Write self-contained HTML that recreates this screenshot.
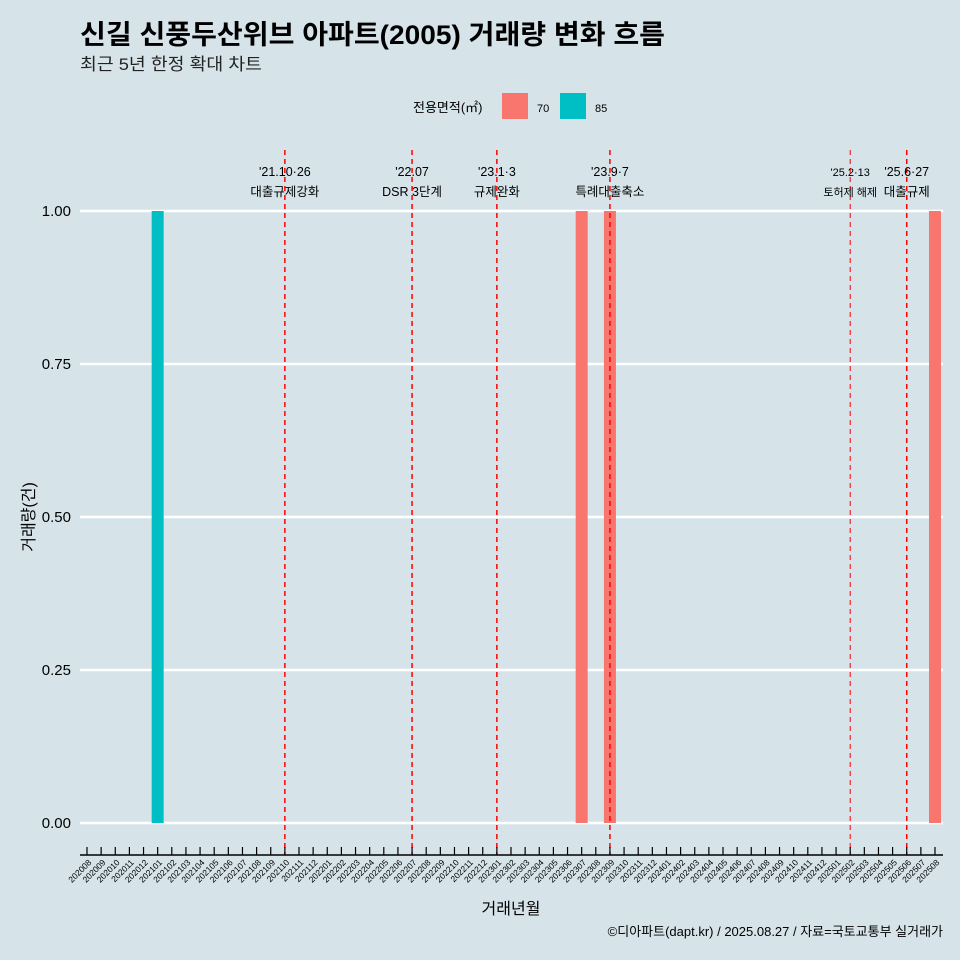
<!DOCTYPE html>
<html><head><meta charset="utf-8"><style>
html,body{margin:0;padding:0;overflow:hidden;background:#d6e4ea;font-family:"Liberation Sans","Noto Sans CJK KR",sans-serif;}
svg{display:block;}
</style></head><body>
<svg width="960" height="960" xmlns="http://www.w3.org/2000/svg" font-family="Liberation Sans, Noto Sans CJK KR, sans-serif">
<rect width="960" height="960" fill="#d6e4ea"/>
<text x="80" y="44" font-size="27" font-weight="bold" fill="#000" textLength="585" lengthAdjust="spacingAndGlyphs">신길 신풍두산위브 아파트(2005) 거래량 변화 흐름</text>
<text x="80" y="70" font-size="17" fill="#222" textLength="182" lengthAdjust="spacingAndGlyphs">최근 5년 한정 확대 차트</text>
<g>
<text x="413" y="112" font-size="13">전용면적(㎡)</text>
<rect x="502" y="93" width="26" height="26" fill="#f8766d"/>
<text x="537" y="112" font-size="11">70</text>
<rect x="560" y="93" width="26" height="26" fill="#00bfc4"/>
<text x="595" y="112" font-size="11">85</text>
</g>
<g id="grid"></g><g id="bars"></g><g id="vlines"></g><g id="xaxis"></g>
<text x="943" y="936" font-size="13" text-anchor="end">©디아파트(dapt.kr) / 2025.08.27 / 자료=국토교통부 실거래가</text>
<text x="511" y="914" font-size="16" text-anchor="middle">거래년월</text>
<text transform="translate(34,517) rotate(-90)" font-size="16" text-anchor="middle">거래량(건)</text>
</svg>
<script>
const months=[];for(let y=2020;y<=2025;y++)for(let m=1;m<=12;m++){const k=y*100+m;if(k>=202008&&k<=202508)months.push(String(k));}
const yTicks=[0,0.25,0.5,0.75,1];
const yTickLabels=["0.00","0.25","0.50","0.75","1.00"];
const barMonths=["202101","202307","202309","202508"];
const barValues=[1,1,1,1];
const barSeries=["85","70","70","70"];
const eventMonths=["202110","202207","202301","202309","202502","202506"];
const eventDates=["'21.10·26","'22.07","'23.1·3","'23.9·7","'25.2·13","'25.6·27"];
const eventTexts=["대출규제강화","DSR 3단계","규제완화","특례대출축소","토허제 해제","대출규제"];
const colors={"70":"#f8766d","85":"#00bfc4"};
const NS="http://www.w3.org/2000/svg";
const x=k=>87+months.indexOf(k)*(848/(months.length-1));
const y=v=>823-v*612;
function mk(t,a,p){const e=document.createElementNS(NS,t);for(const k in a)e.setAttribute(k,a[k]);document.getElementById(p).appendChild(e);return e;}
yTicks.forEach((v,i)=>{
 const l=mk('line',{x1:80,x2:943,y1:y(v),y2:y(v),stroke:'#fff','stroke-width':2.5},'grid');
 
 
 const t=mk('text',{x:71,y:y(v)+5,'font-size':15,'text-anchor':'end'},'grid');t.textContent=yTickLabels[i];
 
 
});
barMonths.forEach((k,i)=>{
 const r=mk('rect',{x:x(k)-6,y:y(barValues[i]),width:12,height:y(0)-y(barValues[i]),fill:colors[barSeries[i]]},'bars');
 
 
});
eventMonths.forEach((k,i)=>{
 const l=mk('line',{x1:x(k),x2:x(k),y1:150,y2:855,stroke:'#ff0000','stroke-width':i==4?1:1.5,'stroke-dasharray':'5,4'},'vlines');
 
 
 const fs=i==4?11:12.5;
 const t1=mk('text',{x:x(k),y:176,'font-size':fs,'text-anchor':'middle'},'vlines');t1.textContent=eventDates[i];
 
 
 const t2=mk('text',{x:x(k),y:196,'font-size':fs,'text-anchor':'middle'},'vlines');t2.textContent=eventTexts[i];
 
 
});
const ax=mk('line',{x1:80,x2:943,y1:855,y2:855,stroke:'#000','stroke-width':1.5},'xaxis');


months.forEach(k=>{
 const tk=mk('line',{x1:x(k),x2:x(k),y1:847,y2:855,stroke:'#000','stroke-width':1.2},'xaxis');
 
 
 const t=mk('text',{x:0,y:0,'font-size':8.5,'text-anchor':'end',transform:`translate(${x(k)+5},${863}) rotate(-45)`},'xaxis');t.textContent=k;
 
 
});
</script>
</body></html>
